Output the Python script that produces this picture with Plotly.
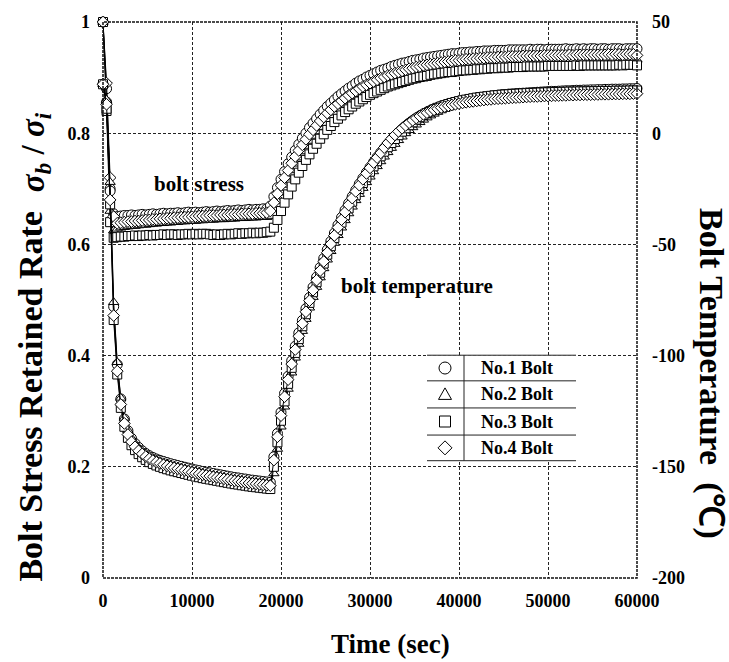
import plotly.graph_objects as go

# ---------------- data ----------------
TIME_STEP_S = 400
time_s = list(range(0, 60001, TIME_STEP_S))  # sampling clock, 0 .. 60000 s

# Bolt stress retained rate  sigma_b / sigma_i  (left axis)
stress_no1 = [
    1.0, 0.88, 0.70, 0.655, 0.650, 0.651, 0.652, 0.652, 0.653, 0.652,
    0.653, 0.654, 0.653, 0.654, 0.655, 0.654, 0.655, 0.656, 0.655, 0.656,
    0.656, 0.657, 0.656, 0.657, 0.658, 0.657, 0.658, 0.657, 0.658, 0.659,
    0.658, 0.659, 0.660, 0.659, 0.660, 0.661, 0.660, 0.661, 0.662, 0.661,
    0.662, 0.663, 0.662, 0.663, 0.663, 0.664, 0.664, 0.669, 0.686, 0.702,
    0.717, 0.731, 0.745, 0.757, 0.769, 0.780, 0.791, 0.800, 0.810, 0.818,
    0.826, 0.834, 0.841, 0.848, 0.854, 0.860, 0.866, 0.871, 0.876, 0.881,
    0.885, 0.890, 0.894, 0.897, 0.901, 0.904, 0.907, 0.910, 0.913, 0.915,
    0.917, 0.920, 0.922, 0.924, 0.926, 0.927, 0.929, 0.931, 0.932, 0.933,
    0.935, 0.936, 0.937, 0.938, 0.939, 0.940, 0.941, 0.942, 0.943, 0.943,
    0.944, 0.945, 0.945, 0.946, 0.946, 0.947, 0.947, 0.948, 0.948, 0.948,
    0.949, 0.949, 0.949, 0.949, 0.950, 0.950, 0.950, 0.950, 0.950, 0.950,
    0.951, 0.950, 0.951, 0.951, 0.950, 0.951, 0.951, 0.951, 0.951, 0.951,
    0.952, 0.951, 0.951, 0.952, 0.951, 0.952, 0.951, 0.952, 0.952, 0.951,
    0.952, 0.952, 0.951, 0.952, 0.952, 0.952, 0.951, 0.952, 0.952, 0.952,
    0.952,
]
stress_no2 = [
    1.0, 0.86, 0.66, 0.625, 0.628, 0.630, 0.631, 0.632, 0.633, 0.633,
    0.634, 0.635, 0.635, 0.636, 0.637, 0.637, 0.638, 0.638, 0.639, 0.639,
    0.640, 0.640, 0.641, 0.641, 0.642, 0.642, 0.642, 0.643, 0.643, 0.644,
    0.644, 0.644, 0.645, 0.645, 0.645, 0.646, 0.646, 0.646, 0.647, 0.647,
    0.647, 0.648, 0.648, 0.648, 0.649, 0.649, 0.649, 0.651, 0.663, 0.678,
    0.693, 0.707, 0.720, 0.733, 0.745, 0.756, 0.767, 0.777, 0.786, 0.795,
    0.803, 0.811, 0.818, 0.825, 0.831, 0.837, 0.843, 0.848, 0.853, 0.858,
    0.862, 0.866, 0.870, 0.874, 0.877, 0.880, 0.883, 0.886, 0.889, 0.891,
    0.894, 0.896, 0.898, 0.900, 0.902, 0.904, 0.906, 0.907, 0.909, 0.910,
    0.912, 0.913, 0.914, 0.915, 0.916, 0.917, 0.918, 0.919, 0.920, 0.920,
    0.921, 0.922, 0.922, 0.923, 0.923, 0.924, 0.924, 0.925, 0.925, 0.926,
    0.926, 0.926, 0.927, 0.927, 0.927, 0.928, 0.928, 0.928, 0.928, 0.929,
    0.929, 0.929, 0.929, 0.929, 0.930, 0.930, 0.930, 0.930, 0.930, 0.930,
    0.930, 0.931, 0.930, 0.931, 0.931, 0.931, 0.931, 0.931, 0.931, 0.931,
    0.931, 0.932, 0.931, 0.932, 0.932, 0.932, 0.931, 0.932, 0.932, 0.932,
    0.932,
]
stress_no3 = [
    1.0, 0.84, 0.64, 0.612, 0.613, 0.614, 0.614, 0.615, 0.615, 0.616,
    0.615, 0.616, 0.616, 0.617, 0.616, 0.617, 0.617, 0.618, 0.617, 0.618,
    0.618, 0.617, 0.618, 0.618, 0.619, 0.618, 0.619, 0.618, 0.619, 0.619,
    0.618, 0.617, 0.618, 0.617, 0.618, 0.619, 0.618, 0.619, 0.620, 0.619,
    0.620, 0.620, 0.621, 0.620, 0.621, 0.621, 0.622, 0.623, 0.630, 0.644,
    0.660, 0.675, 0.690, 0.704, 0.717, 0.729, 0.741, 0.752, 0.762, 0.772,
    0.781, 0.790, 0.798, 0.806, 0.813, 0.820, 0.826, 0.832, 0.838, 0.843,
    0.848, 0.853, 0.857, 0.861, 0.865, 0.869, 0.872, 0.875, 0.878, 0.881,
    0.884, 0.886, 0.888, 0.890, 0.892, 0.894, 0.896, 0.898, 0.899, 0.901,
    0.902, 0.903, 0.905, 0.906, 0.907, 0.908, 0.909, 0.910, 0.910, 0.911,
    0.912, 0.913, 0.913, 0.914, 0.914, 0.915, 0.915, 0.916, 0.916, 0.917,
    0.917, 0.917, 0.918, 0.918, 0.918, 0.919, 0.919, 0.919, 0.919, 0.920,
    0.920, 0.920, 0.920, 0.920, 0.920, 0.921, 0.921, 0.921, 0.921, 0.921,
    0.921, 0.921, 0.921, 0.922, 0.921, 0.922, 0.922, 0.922, 0.922, 0.922,
    0.922, 0.922, 0.922, 0.922, 0.922, 0.923, 0.922, 0.923, 0.923, 0.923,
    0.922,
]
stress_no4 = [
    1.0, 0.89, 0.72, 0.650, 0.638, 0.639, 0.640, 0.641, 0.641, 0.642,
    0.642, 0.643, 0.644, 0.644, 0.645, 0.645, 0.646, 0.646, 0.647, 0.647,
    0.648, 0.648, 0.649, 0.649, 0.649, 0.650, 0.650, 0.651, 0.651, 0.651,
    0.652, 0.652, 0.652, 0.653, 0.653, 0.653, 0.654, 0.654, 0.654, 0.655,
    0.655, 0.655, 0.655, 0.656, 0.656, 0.656, 0.657, 0.660, 0.675, 0.691,
    0.706, 0.720, 0.733, 0.746, 0.758, 0.769, 0.779, 0.789, 0.798, 0.806,
    0.814, 0.822, 0.829, 0.836, 0.842, 0.848, 0.853, 0.858, 0.863, 0.868,
    0.872, 0.876, 0.880, 0.884, 0.887, 0.890, 0.893, 0.896, 0.899, 0.901,
    0.904, 0.906, 0.908, 0.910, 0.912, 0.914, 0.916, 0.917, 0.919, 0.920,
    0.922, 0.923, 0.924, 0.925, 0.926, 0.927, 0.928, 0.929, 0.930, 0.931,
    0.931, 0.932, 0.933, 0.933, 0.934, 0.934, 0.935, 0.935, 0.936, 0.936,
    0.936, 0.937, 0.937, 0.937, 0.938, 0.938, 0.938, 0.938, 0.939, 0.939,
    0.939, 0.939, 0.939, 0.939, 0.940, 0.940, 0.940, 0.940, 0.940, 0.940,
    0.940, 0.941, 0.940, 0.941, 0.941, 0.941, 0.941, 0.941, 0.941, 0.941,
    0.941, 0.941, 0.942, 0.941, 0.942, 0.942, 0.941, 0.942, 0.942, 0.942,
    0.940,
]

# Bolt temperature in deg C (right axis)
temp_no1 = [
    22, 14, -26, -78, -104, -119.5, -128.5, -133.8, -137.2, -139.5,
    -141.3, -142.8, -144, -145, -145.8, -146.5, -147.1, -147.6, -148.1, -148.6,
    -149, -149.4, -149.8, -150.2, -150.6, -151, -151.4, -151.7, -152.1, -152.4,
    -152.7, -153, -153.3, -153.6, -153.9, -154.2, -154.5, -154.8, -155, -155.3,
    -155.5, -155.8, -156, -156.2, -156.4, -156.6, -156.8, -157, -145.5, -135,
    -125.5, -117, -109.3, -102.3, -95.8, -89.8, -84.2, -78.9, -73.9, -69.2,
    -64.7, -60.4, -56.3, -52.4, -48.6, -44.9, -41.3, -37.9, -34.6, -31.5,
    -28.5, -25.6, -22.8, -20.2, -17.7, -15.3, -13, -10.8, -8.7, -6.7,
    -4.8, -3, -1.3, 0.3, 1.8, 3.2, 4.5, 5.7, 6.8, 7.8,
    8.7, 9.5, 10.3, 11, 11.6, 12.2, 12.7, 13.2, 13.6, 14,
    14.4, 14.7, 15, 15.3, 15.6, 15.9, 16.1, 16.3, 16.5, 16.7,
    16.9, 17.1, 17.3, 17.4, 17.6, 17.7, 17.8, 17.9, 18, 18.1,
    18.2, 18.3, 18.4, 18.5, 18.6, 18.7, 18.8, 18.8, 18.9, 19,
    19.1, 19.1, 19.2, 19.3, 19.3, 19.4, 19.4, 19.5, 19.5, 19.6,
    19.6, 19.7, 19.7, 19.8, 19.8, 19.8, 19.9, 19.9, 20, 20,
    20.1,
]
temp_no2 = [
    22, 15, -22, -76, -103, -119, -128, -133.5, -137, -139.5,
    -141.3, -142.8, -144, -145.1, -146, -146.7, -147.4, -148, -148.5, -149,
    -149.5, -149.9, -150.3, -150.7, -151.1, -151.5, -151.9, -152.2, -152.6, -152.9,
    -153.3, -153.6, -153.9, -154.2, -154.5, -154.8, -155.1, -155.4, -155.6, -155.9,
    -156.1, -156.4, -156.6, -156.8, -157, -157.2, -157.4, -157.6, -153, -142,
    -132, -123, -115, -107.7, -101, -94.8, -89, -83.6, -78.5, -73.7,
    -69.2, -64.9, -60.8, -56.9, -53.1, -49.4, -45.9, -42.5, -39.2, -36.1,
    -33.1, -30.2, -27.4, -24.7, -22.1, -19.6, -17.2, -14.9, -12.7, -10.6,
    -8.6, -6.7, -4.9, -3.2, -1.6, -0.1, 1.3, 2.6, 3.8, 4.9,
    6, 7, 7.9, 8.7, 9.5, 10.2, 10.8, 11.4, 12, 12.5,
    13, 13.4, 13.8, 14.2, 14.5, 14.8, 15.1, 15.4, 15.6, 15.8,
    16, 16.2, 16.4, 16.5, 16.7, 16.8, 17, 17.1, 17.2, 17.3,
    17.4, 17.5, 17.6, 17.6, 17.7, 17.8, 17.8, 17.9, 18, 18,
    18.1, 18.1, 18.2, 18.2, 18.3, 18.3, 18.4, 18.4, 18.4, 18.5,
    18.5, 18.5, 18.6, 18.6, 18.6, 18.7, 18.7, 18.7, 18.8, 18.8,
    18.8,
]
temp_no3 = [
    22, 11, -32, -84, -108.5, -123.5, -132, -137, -140.3, -142.5,
    -144.3, -145.7, -146.9, -147.9, -148.7, -149.4, -150, -150.6, -151.1, -151.6,
    -152, -152.4, -152.8, -153.2, -153.6, -154, -154.4, -154.7, -155.1, -155.4,
    -155.7, -156, -156.3, -156.6, -156.9, -157.2, -157.5, -157.8, -158, -158.3,
    -158.5, -158.8, -159, -159.2, -159.4, -159.6, -159.8, -160, -150, -139,
    -129.3, -120.6, -112.7, -105.5, -98.8, -92.6, -86.8, -81.4, -76.3, -71.5,
    -67, -62.7, -58.6, -54.6, -50.8, -47.1, -43.6, -40.2, -36.9, -33.8,
    -30.8, -27.9, -25.1, -22.4, -19.8, -17.3, -14.9, -12.6, -10.4, -8.3,
    -6.3, -4.4, -2.6, -0.9, 0.7, 2.2, 3.6, 4.9, 6.1, 7.2,
    8.2, 9.1, 9.9, 10.7, 11.4, 12, 12.6, 13.1, 13.6, 14,
    14.4, 14.8, 15.1, 15.4, 15.7, 16, 16.2, 16.4, 16.6, 16.8,
    17, 17.1, 17.3, 17.4, 17.5, 17.6, 17.7, 17.8, 17.9, 18,
    18.1, 18.1, 18.2, 18.3, 18.3, 18.4, 18.4, 18.5, 18.5, 18.6,
    18.6, 18.7, 18.7, 18.7, 18.8, 18.8, 18.8, 18.9, 18.9, 18.9,
    19, 19, 19, 19, 19.1, 19.1, 19.1, 19.1, 19.2, 19.2,
    19.2,
]
temp_no4 = [
    22, 13, -30, -82, -107, -122, -130.5, -135.5, -138.8, -141,
    -142.8, -144.2, -145.4, -146.4, -147.2, -147.9, -148.5, -149.1, -149.6, -150.1,
    -150.5, -150.9, -151.3, -151.7, -152.1, -152.5, -152.9, -153.2, -153.6, -153.9,
    -154.2, -154.5, -154.8, -155.1, -155.4, -155.7, -156, -156.3, -156.5, -156.8,
    -157, -157.3, -157.5, -157.7, -157.9, -158.1, -158.3, -158.5, -147, -136.5,
    -127, -118.5, -110.8, -103.8, -97.3, -91.3, -85.6, -80.3, -75.3, -70.6,
    -66.1, -61.8, -57.7, -53.7, -49.8, -46, -42.4, -38.9, -35.5, -32.3,
    -29.2, -26.2, -23.4, -20.7, -18.1, -15.6, -13.2, -11, -8.9, -6.5,
    -4.4, -2.5, -0.8, 0.8, 2.2, 3.5, 4.7, 5.8, 6.8, 7.7,
    8.5, 9.2, 9.9, 10.5, 11, 11.5, 11.9, 12.3, 12.7, 13,
    13.3, 13.6, 13.9, 14.1, 14.3, 14.5, 14.7, 14.9, 15.1, 15.2,
    15.4, 15.5, 15.6, 15.7, 15.8, 15.9, 16, 16.1, 16.2, 16.3,
    16.4, 16.5, 16.5, 16.6, 16.7, 16.7, 16.8, 16.9, 16.9, 17,
    17, 17.1, 17.1, 17.2, 17.2, 17.3, 17.3, 17.3, 17.4, 17.4,
    17.5, 17.5, 17.5, 17.6, 17.6, 17.6, 17.7, 17.7, 17.7, 17.8,
    17.8,
]

bolt_names = ["No.1 Bolt", "No.2 Bolt", "No.3 Bolt", "No.4 Bolt"]
x_tick_vals = [0, 10000, 20000, 30000, 40000, 50000, 60000]
x_tick_text = ["0", "10000", "20000", "30000", "40000", "50000", "60000"]
y_tick_vals = [0, 0.2, 0.4, 0.6, 0.8, 1.0]
y_tick_text = ["0", "0.2", "0.4", "0.6", "0.8", "1"]
y2_tick_vals = [-200, -150, -100, -50, 0, 50]
y2_tick_text = ["-200", "-150", "-100", "-50", "0", "50"]

stress_series = [stress_no1, stress_no2, stress_no3, stress_no4]
temp_series = [temp_no1, temp_no2, temp_no3, temp_no4]
for arr in stress_series + temp_series:
    if len(arr) != len(time_s):
        raise ValueError("length mismatch %d vs %d" % (len(arr), len(time_s)))

# ---------------- styling ----------------
FONT = "Liberation Serif, Times New Roman, serif"
symbols = ["circle", "triangle-up", "square", "diamond"]
msizes = [10, 9, 9, 9]

fig = go.Figure()


def add_series(ys, sym, size, axis, name):
    fig.add_trace(go.Scatter(
        x=time_s, y=ys, mode="lines+markers", name=name,
        yaxis=axis, cliponaxis=False, showlegend=False,
        line=dict(color="black", width=1),
        marker=dict(symbol=sym, size=size, color="white",
                    line=dict(color="black", width=1)),
    ))


for ys, sym, sz, nm in zip(stress_series, symbols, msizes, bolt_names):
    add_series(ys, sym, sz, "y", nm)
for ys, sym, sz, nm in zip(temp_series, symbols, msizes, bolt_names):
    add_series(ys, sym, sz, "y2", nm)

tickfont = dict(family=FONT, size=18, color="black", weight="bold")
grid = dict(showgrid=True, gridcolor="#222", gridwidth=1, griddash="3px,2px",
            zeroline=False, showline=False, ticks="")

L, R, T, B = 103, 92, 14, 84
W, H = 729, 662
PW, PH = W - L - R, H - T - B


def px_x(p):
    return (p - L) / PW


def px_y(p):
    return (H - B - p) / PH


fig.update_layout(
    width=W, height=H,
    margin=dict(l=L, r=R, t=T, b=B, pad=0),
    paper_bgcolor="white", plot_bgcolor="white",
    showlegend=False,
    font=dict(family=FONT, color="black"),
    xaxis=dict(range=[0, 60000], tickvals=x_tick_vals, ticktext=x_tick_text,
               tickfont=tickfont, ticklabelstandoff=10, **grid),
    yaxis=dict(range=[0, 1], tickvals=y_tick_vals, ticktext=y_tick_text,
               tickfont=tickfont, ticklabelstandoff=12, **grid),
    yaxis2=dict(range=[-200, 50], tickvals=y2_tick_vals, ticktext=y2_tick_text,
                overlaying="y", side="right", showgrid=False, zeroline=False,
                showline=False, ticks="", tickfont=tickfont,
                ticklabelstandoff=14),
)

shapes = [
    dict(type="rect", xref="paper", yref="paper", x0=0, x1=1, y0=0, y1=1,
         line=dict(color="#111", width=1.5, dash="3px,1px"), layer="above"),
]

# table-style legend box
lx0, lx1, ldiv = px_x(427), px_x(576), px_x(464)
row_edges = [352, 378, 405.5, 433, 459]
shapes.append(dict(type="rect", xref="paper", yref="paper", x0=lx0, x1=lx1,
                   y0=px_y(row_edges[-1]), y1=px_y(row_edges[0]),
                   fillcolor="white", line=dict(width=0), layer="above"))
for e in row_edges:
    shapes.append(dict(type="line", xref="paper", yref="paper", x0=lx0, x1=lx1,
                       y0=px_y(e), y1=px_y(e), line=dict(color="#222", width=1),
                       layer="above"))
shapes.append(dict(type="line", xref="paper", yref="paper", x0=ldiv, x1=ldiv,
                   y0=px_y(row_edges[-1]), y1=px_y(row_edges[0]),
                   line=dict(color="#222", width=1), layer="above"))

sym_x = px_x(445)
row_centers = [(row_edges[i] + row_edges[i + 1]) / 2 for i in range(4)]
sym_paths = [
    None,
    "M -6.5 -5 L 6.5 -5 L 0 6.5 Z",
    None,
    "M 0 -7 L 7 0 L 0 7 L -7 0 Z",
]
for i, (yc, sym) in enumerate(zip(row_centers, symbols)):
    base = dict(xref="paper", yref="paper", xsizemode="pixel", ysizemode="pixel",
                xanchor=sym_x, yanchor=px_y(yc),
                line=dict(color="black", width=1), fillcolor="white",
                layer="above")
    if sym == "circle":
        shapes.append(dict(type="circle", x0=-6, x1=6, y0=-6, y1=6, **base))
    elif sym == "square":
        shapes.append(dict(type="rect", x0=-5.5, x1=5.5, y0=-5.5, y1=5.5, **base))
    else:
        shapes.append(dict(type="path", path=sym_paths[i], **base))

annotations = []
bold = dict(family=FONT, color="black", weight="bold")
for yc, nm in zip(row_centers, bolt_names):
    annotations.append(dict(xref="paper", yref="paper", x=px_x(479), y=px_y(yc),
                            xanchor="left", yanchor="middle", text=nm,
                            showarrow=False, font=dict(size=18, **bold)))


def center_note(xp, yp, text, size, angle=0):
    return dict(xref="paper", yref="paper", x=px_x(xp), y=px_y(yp), text=text,
                xanchor="center", yanchor="middle", textangle=angle,
                showarrow=False, font=dict(size=size, **bold))


annotations += [
    center_note(199, 178, "bolt stress", 21),
    center_note(417, 282, "bolt temperature", 21),
    center_note(390, 645, "Time (sec)", 27),
    center_note(31, 394, "Bolt Stress Retained Rate", 34, -90),
    center_note(35, 146,
                "<i>σ</i><sub><i>b</i></sub> / <i>σ</i><sub><i>i</i></sub>",
                33, -90),
    center_note(711, 370, "Bolt Temperature\u00a0\u00a0(℃)", 34, 90),
]

fig.update_layout(shapes=shapes, annotations=annotations)
fig.write_html("out.html")
